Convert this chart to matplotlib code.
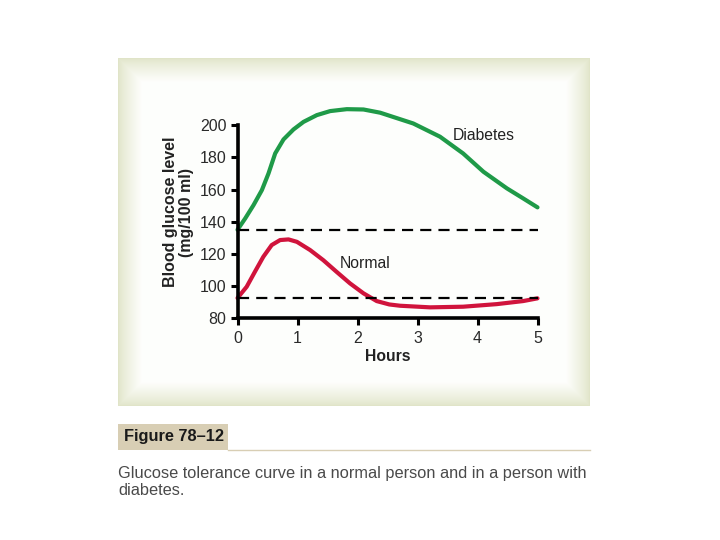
import matplotlib.pyplot as plt
import numpy as np
from matplotlib.patches import Rectangle

plt.rcParams['font.family'] = ['Liberation Sans', 'DejaVu Sans']

# values
hours_diab = [0, 0.128, 0.267, 0.406, 0.517, 0.628, 0.767, 0.933, 1.1, 1.322, 1.544, 1.822,
              2.1, 2.378, 2.93, 3.375, 3.76, 4.1, 4.49, 4.76, 5.0]
glucose_diab = [135, 142, 150.3, 159.6, 170, 182.4, 191.1, 197.3, 202, 206.2, 208.7, 209.9,
                209.7, 207.7, 201, 192.8, 182.4, 171, 160.7, 154.5, 148.9]

hours_norm = [0, 0.153, 0.29, 0.43, 0.57, 0.71, 0.85, 0.99, 1.21, 1.43, 1.65, 1.875, 2.1,
              2.32, 2.53, 2.71, 3.21, 3.76, 4.32, 4.76, 5.0]
glucose_norm = [92.6, 99.6, 108.9, 118.2, 125.5, 128.6, 129, 127.5, 122.4, 116.1, 108.9, 101.7,
                95.5, 90.7, 88.6, 87.8, 86.8, 87.2, 88.8, 90.7, 92.4]

baseline_diab = 135
baseline_norm = 92.4

x_ticks = [0, 1, 2, 3, 4, 5]
y_ticks = [80, 100, 120, 140, 160, 180, 200]

fig = plt.figure(figsize=(7.2, 5.4), dpi=100)
fig.patch.set_facecolor('white')

W, H = 720, 540

# background panel with faded olive border
px0, py0, px1, py1 = 118, 58, 590, 406
bg = fig.add_axes([px0 / W, 1 - py1 / H, (px1 - px0) / W, (py1 - py0) / H])
bg.set_axis_off()
nx, ny = px1 - px0, py1 - py0
xx = np.arange(nx)
yy = np.arange(ny)
dx = np.minimum(xx, nx - 1 - xx)[None, :]
dy = np.minimum(yy, ny - 1 - yy)[:, None]
d = np.minimum(np.broadcast_to(dx, (ny, nx)), np.broadcast_to(dy, (ny, nx)))
t = np.clip(d / 24.0, 0, 1)[..., None] ** 0.8
edge = np.array([0.882, 0.898, 0.788])
inner = np.array([0.996, 0.998, 0.992])
img = edge * (1 - t) + inner * t
bg.imshow(img, aspect='auto', interpolation='bilinear')

# main chart
ax = fig.add_axes([237.5 / W, 1 - 318.3 / H, 300 / W, 132 * 1.61 / H])
ax.set_facecolor('none')
ax.set_xlim(0, 5)
ax.set_ylim(80, 212)

ax.plot(hours_diab, glucose_diab, color='#1f9a48', lw=3, clip_on=False,
        solid_capstyle='round', solid_joinstyle='round')
ax.plot(hours_norm, glucose_norm, color='#d0143c', lw=3, clip_on=False,
        solid_capstyle='round', solid_joinstyle='round')
ax.plot([0, 5], [baseline_diab, baseline_diab], color='black', lw=1.6, ls=(0, (5, 3.2)), clip_on=False)
ax.plot([0, 5], [baseline_norm, baseline_norm], color='black', lw=1.6, ls=(0, (5, 3.2)), clip_on=False)

ax.text(3.59, 190.7, 'Diabetes', fontsize=11.3, color='#222222', va='baseline')
ax.text(1.70, 111, 'Normal', fontsize=11.3, color='#222222', va='baseline')

for s in ['top', 'right']:
    ax.spines[s].set_visible(False)
ax.spines['left'].set_bounds(80, 200)
ax.spines['left'].set_linewidth(2.6)
ax.spines['bottom'].set_linewidth(2.6)
ax.set_xticks(x_ticks)
ax.set_yticks(y_ticks)
ax.tick_params(width=2.2, length=5, labelsize=11.5, labelcolor='#2a2a2a')
ax.tick_params(axis='x', pad=4)
ax.tick_params(axis='y', pad=3)
ax.set_xlabel('Hours', fontsize=11.3, fontweight='bold', color='#222222', labelpad=2)
ax.set_ylabel('Blood glucose level\n(mg/100 ml)', fontsize=11.5, fontweight='bold',
              color='#222222', labelpad=4, linespacing=1.05)

# figure caption block
fig.patches.append(Rectangle((118 / W, 1 - 450 / H), (228 - 118) / W, 26 / H,
                             transform=fig.transFigure, facecolor='#d8ceb4', edgecolor='none'))
fig.add_artist(plt.Line2D([228 / W, 590 / W], [1 - 449.5 / H, 1 - 449.5 / H],
                          transform=fig.transFigure, color='#d8ceb4', lw=1))
fig.text(124 / W, 1 - 437 / H, 'Figure 78\u201312', fontsize=11.8, fontweight='bold',
         color='#1a1a1a', va='center')
fig.text(118 / W, 1 - 482 / H,
         'Glucose tolerance curve in a normal person and in a person with\ndiabetes.',
         fontsize=11.8, color='#4a4a4a', va='center', linespacing=1.1)

fig.savefig('out.png', dpi=100, facecolor='white')
